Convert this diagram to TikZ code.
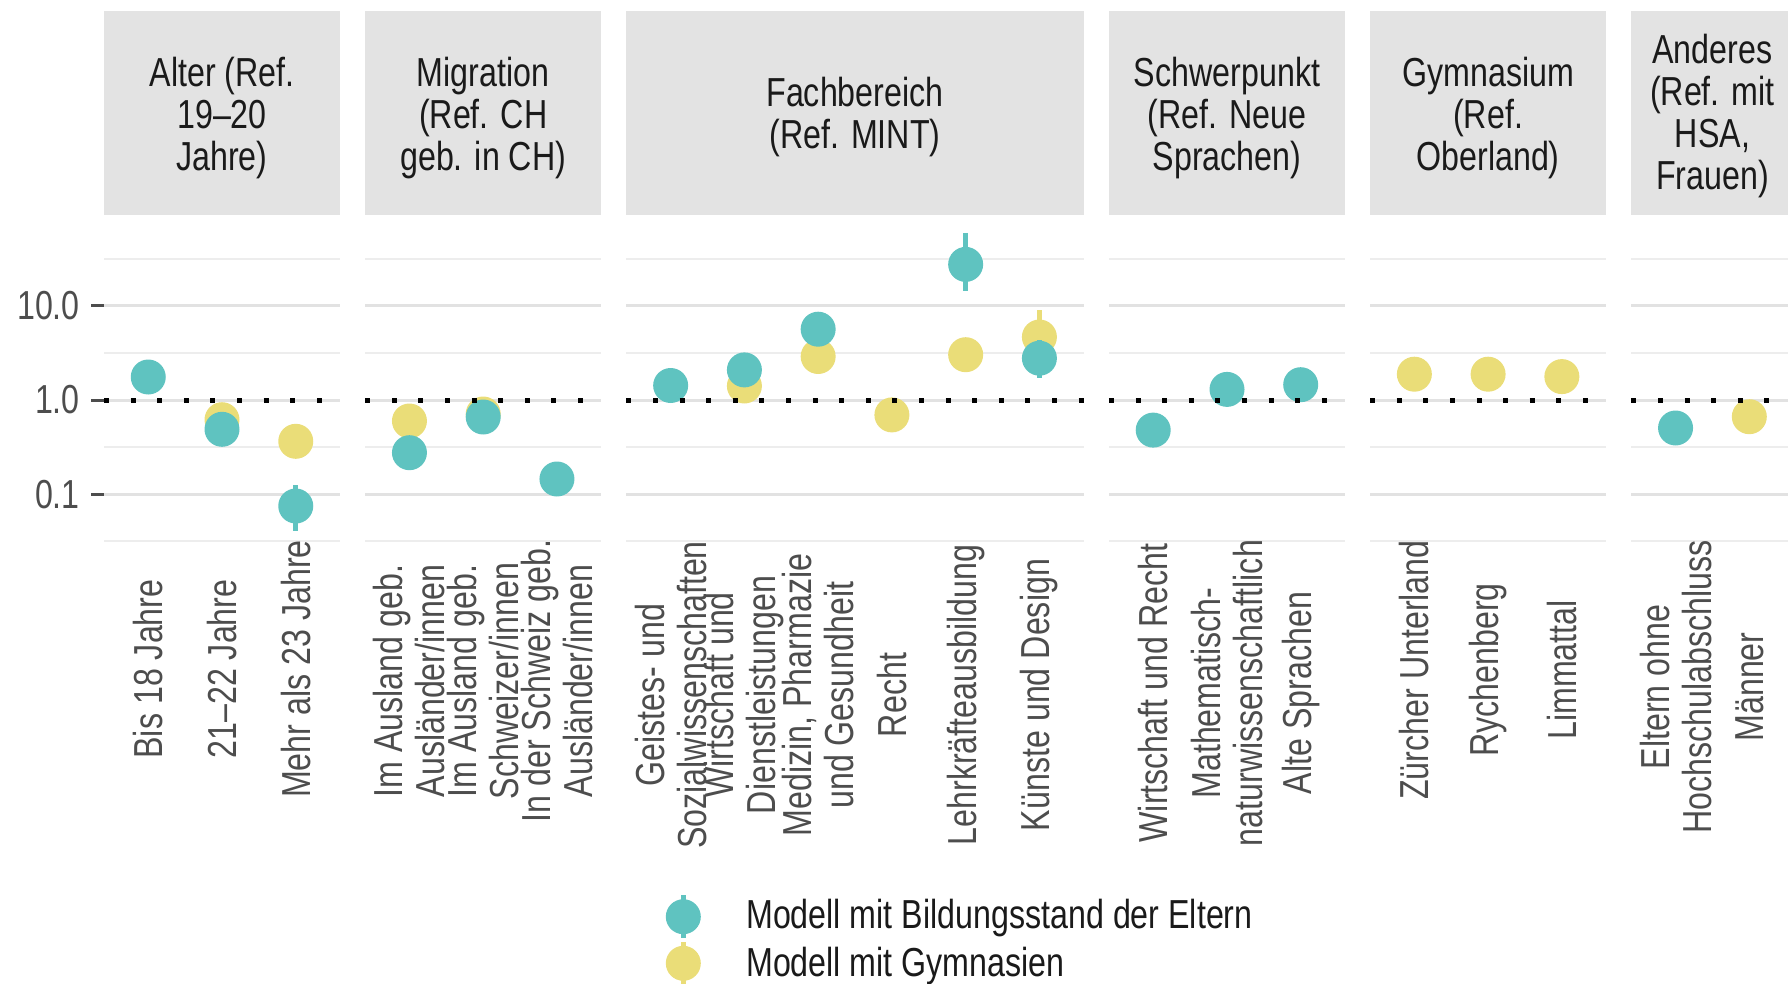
\documentclass[tikz,border=0pt]{standalone}
\usepackage{fontspec}
\setmainfont[FakeStretch=0.795]{Liberation Sans}

\definecolor{eltern}{HTML}{5FC3C0}
\definecolor{gymi}{HTML}{EADD78}
\definecolor{stripgrey}{HTML}{E3E3E3}
\definecolor{gridmaj}{HTML}{E2E2E2}
\definecolor{gridmin}{HTML}{EDEDED}
\definecolor{axistext}{HTML}{4D4D4D}
\definecolor{striptext}{HTML}{1A1A1A}

\tikzset{
	lab/.style={font=\fontsize{40.5}{42}\selectfont, inner sep=0pt, text=axistext},
	striplab/.style={lab, align=center, text=striptext},
	catlab/.style={lab, rotate=90, align=center},
	ptbar/.style={line width=5pt},
}

\begin{document}
\begin{tikzpicture}[x=1pt,y=-1pt]
		\useasboundingbox (0,0) rectangle (1788,984);
		% facet strips and grid lines
		\foreach \l/\n in {104/3, 365.2/3, 626.4/6, 1108.9/3, 1370.1/3, 1631.3/2} {
			\pgfmathsetmacro{\rgt}{\l+(\n+0.2)*73.75}
			\fill[stripgrey] (\l,11) rectangle (\rgt,215);
			\foreach \g in {258.6,353.1,447.3,541}
				\draw[gridmin, line width=2pt] (\l,\g) -- (\rgt,\g);
			\foreach \g in {305.8,400,494.2}
				\draw[gridmaj, line width=3pt] (\l,\g) -- (\rgt,\g);
		}
		\node[striplab] (s-alter) at (222,118) {Alter (Ref.\\19–20\\Jahre)};
		\node[striplab] (s-migration) at (483.2,118) {Migration\\(Ref. CH\\geb. in CH)};
		\node[striplab] (s-fach) at (855,117) {Fachbereich\\(Ref. MINT)};
		\node[striplab] (s-schwerpunkt) at (1227,118) {Schwerpunkt\\(Ref. Neue\\Sprachen)};
		\node[striplab] (s-gymnasium) at (1488.1,118) {Gymnasium\\(Ref.\\Oberland)};
		\node[striplab] (s-anderes) at (1712.4,116) {Anderes\\(Ref. mit\\HSA,\\Frauen)};

		% y axis
		\foreach \g in {305.8,400,494.2}
			\draw[axistext, line width=3pt] (91,\g) -- (104,\g);
		\node[lab, anchor=east] (y-10) at (80,305.8) {10.0};
		\node[lab, anchor=east] (y-1) at (80,400) {1.0};
		\node[lab, anchor=east] (y-01) at (80,494.2) {0.1};

		% Modell mit Gymnasien
		\draw[gymi, ptbar] (1039.4,310.4) -- (1039.4,363);
		\foreach \x/\y in {222/419.7, 295.75/441.3, 409.45/421, 483.2/414, 744.4/386, 818.15/356.5, 891.9/414.9, 965.65/354.7, 1039.4/337, 1414.35/374.2, 1488.1/374.2, 1561.85/376.6, 1749.3/416.7}
			\fill[gymi] (\x,\y) circle (17.5pt);
		% Modell mit Bildungsstand der Eltern
		\foreach \x/\a/\b in {295.75/485/530.7, 556.95/469/490, 965.65/233/291, 1039.4/340/377.7}
			\draw[eltern, ptbar] (\x,\a) -- (\x,\b);
		\foreach \x/\y in {148.25/377, 222/429.3, 295.75/506, 409.45/452.7, 483.2/417, 556.95/479, 670.65/385.5, 744.4/369.9, 818.15/329.2, 965.65/264.4, 1039.4/358.2, 1153.2/430.1, 1227/389.4, 1300.7/384.7, 1675.55/428}
			\fill[eltern] (\x,\y) circle (17.5pt);

		% reference line at 1
		\foreach \l/\n in {104/3, 365.2/3, 626.4/6, 1108.9/3, 1370.1/3, 1631.3/2} {
			\pgfmathsetmacro{\rgt}{\l+(\n+0.2)*73.75}
			\draw[black, line width=5pt, dash pattern=on 5pt off 21.6pt] (\l,400) -- (\rgt,400);
		}

		% category labels
		\node[catlab] (c-bis18) at (148.25,669) {Bis 18 Jahre};
		\node[catlab] (c-2122) at (222,669) {21–22 Jahre};
		\node[catlab] (c-mehr23) at (295.75,669) {Mehr als 23 Jahre};
		\node[catlab] (c-ausl-ausl) at (409.45,681) {Im Ausland geb.\\Ausländer/innen};
		\node[catlab] (c-ausl-ch) at (483.2,681) {Im Ausland geb.\\Schweizer/innen};
		\node[catlab] (c-ch-ausl) at (556.95,681) {In der Schweiz geb.\\Ausländer/innen};
		\node[catlab] (c-geistes) at (670.65,695) {Geistes- und\\Sozialwissenschaften};
		\node[catlab] (c-wirtschaft) at (744.4,695) {Wirtschaft und\\Dienstleistungen};
		\node[catlab] (c-medizin) at (818.15,695) {Medizin, Pharmazie\\und Gesundheit};
		\node[catlab] (c-recht) at (891.9,695) {Recht};
		\node[catlab] (c-lehr) at (965.65,695) {Lehrkräfteausbildung};
		\node[catlab] (c-kuenste) at (1039.4,695) {Künste und Design};
		\node[catlab] (c-wr) at (1153.2,693) {Wirtschaft und Recht};
		\node[catlab] (c-mn) at (1227,693) {Mathematisch-\\naturwissenschaftlich};
		\node[catlab] (c-alte) at (1300.7,693) {Alte Sprachen};
		\node[catlab] (c-unterland) at (1414.35,670) {Zürcher Unterland};
		\node[catlab] (c-rychenberg) at (1488.1,670) {Rychenberg};
		\node[catlab] (c-limmattal) at (1561.85,670) {Limmattal};
		\node[catlab] (c-eltern) at (1675.55,687) {Eltern ohne\\Hochschulabschluss};
		\node[catlab] (c-maenner) at (1749.3,687) {Männer};

		% legend
		\draw[eltern, ptbar] (683.3,895) -- (683.3,938);
		\fill[eltern] (683.3,916.7) circle (17.5pt);
		\draw[gymi, ptbar] (683.3,942) -- (683.3,986);
		\fill[gymi] (683.3,963.3) circle (17.5pt);
		\node[lab, anchor=base west, text=striptext] (leg-eltern) at (746,928.3) {Modell mit Bildungsstand der Eltern};
		\node[lab, anchor=base west, text=striptext] (leg-gymi) at (746,976) {Modell mit Gymnasien};
	\end{tikzpicture}
\end{document}
